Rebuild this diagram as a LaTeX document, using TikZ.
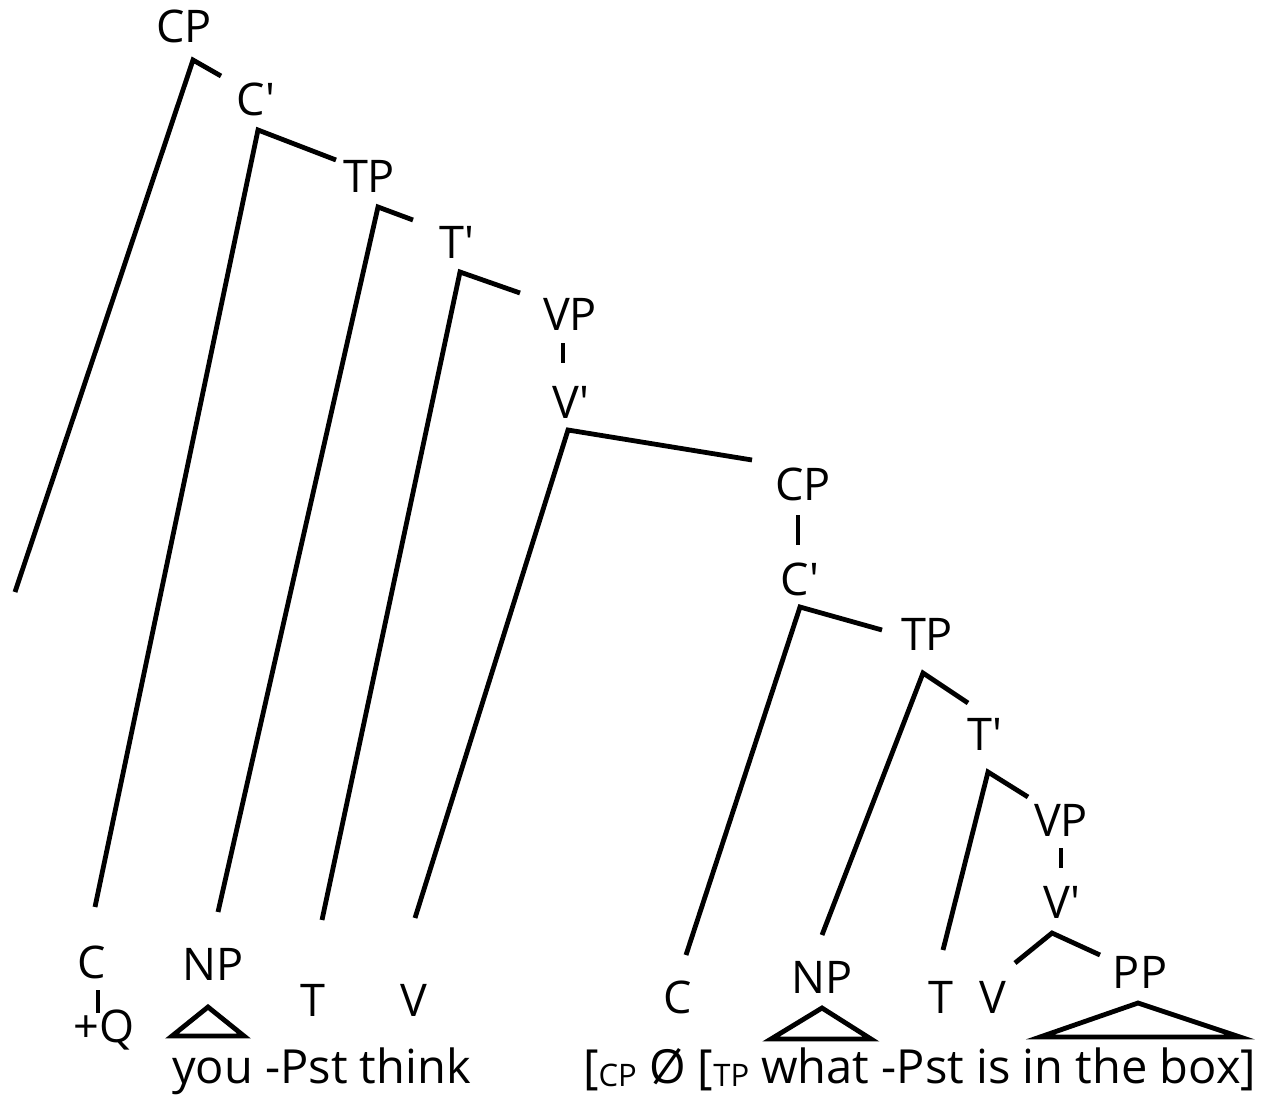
\documentclass[tikz,border=0pt]{standalone}
\usepackage{fontspec}
\setmainfont{Open Sans}[Ligatures=TeXOff]
\newcommand{\smallcat}[1]{\raisebox{-3pt}{\fontsize{31}{34}\selectfont #1}}
\begin{document}
\begin{tikzpicture}[x=1pt,y=-1pt,
  lab/.style={font=\fontsize{45}{50}\selectfont, inner sep=0pt, anchor=base},
  words/.style={font=\fontsize{47}{52}\selectfont, inner sep=0pt, anchor=base west},
  br/.style={line width=4.8pt, line cap=butt, line join=miter},
  tri/.style={line width=4.8pt, line join=miter}]
\useasboundingbox (0,0) rectangle (1280,1095);

% ---- category labels ----
\node[lab] (cpA)  at (184,42)   {CP};
\node[lab] (cbA)  at (256,115)  {C'};
\node[lab] (tpA)  at (369,192)  {TP};
\node[lab] (tbA)  at (457,258)  {T'};
\node[lab] (vpA)  at (570,330)  {VP};
\node[lab] (vbA)  at (571,418)  {V'};
\node[lab] (cA)   at (92,978)   {C};
\node[lab] (qA)   at (104,1042) {+Q};
\node[lab] (npA)  at (213,980)  {NP};
\node[lab] (tA)   at (313,1016) {T};
\node[lab] (vA)   at (414,1016) {V};

\node[lab] (cpB)  at (803,500)  {CP};
\node[lab] (cbB)  at (800,595)  {C'};
\node[lab] (tpB)  at (927,650)  {TP};
\node[lab] (tbB)  at (985,750)  {T'};
\node[lab] (vpB)  at (1061,836) {VP};
\node[lab] (vbB)  at (1062,918) {V'};
\node[lab] (cB)   at (678,1013) {C};
\node[lab] (npB)  at (822,993)  {NP};
\node[lab] (tB)   at (941,1013) {T};
\node[lab] (vB)   at (993,1013) {V};
\node[lab] (ppB)  at (1140,988) {PP};

% ---- terminal strings ----
\node[words] (strA) at (172,1083) {you -Pst think};
\node[words] (strB) at (583,1083)
  {[\smallcat{CP} Ø [\smallcat{TP} what -Pst is in the box]};

% ---- branch points and branch ends ----
\coordinate (cpA-x) at (193,60);   \coordinate (cpA-l) at (15,592);   \coordinate (cpA-r) at (221,76);
\coordinate (cbA-x) at (258,130);  \coordinate (cbA-l) at (95,907);   \coordinate (cbA-r) at (336,160);
\coordinate (tpA-x) at (378,207);  \coordinate (tpA-l) at (218,912);  \coordinate (tpA-r) at (413,220);
\coordinate (tbA-x) at (460,272);  \coordinate (tbA-l) at (322,920);  \coordinate (tbA-r) at (520,293);
\coordinate (vpA-t) at (563,343);  \coordinate (vpA-b) at (563,363);
\coordinate (vbA-x) at (568,430);  \coordinate (vbA-l) at (415,918);  \coordinate (vbA-r) at (752,460);
\coordinate (cA-t)  at (98,990);   \coordinate (cA-b)  at (98,1013);

\coordinate (cpB-t) at (798,515);  \coordinate (cpB-b) at (798,545);
\coordinate (cbB-x) at (800,607);  \coordinate (cbB-l) at (686,955);  \coordinate (cbB-r) at (882,630);
\coordinate (tpB-x) at (923,673);  \coordinate (tpB-l) at (822,935);  \coordinate (tpB-r) at (968,703);
\coordinate (tbB-x) at (988,772);  \coordinate (tbB-l) at (943,950);  \coordinate (tbB-r) at (1028,797);
\coordinate (vpB-t) at (1061,848); \coordinate (vpB-b) at (1061,868);
\coordinate (vbB-x) at (1052,933); \coordinate (vbB-l) at (1015,963); \coordinate (vbB-r) at (1100,955);

% ---- branches ----
\draw[br] (cpA-l) -- (cpA-x) -- (cpA-r);
\draw[br] (cbA-l) -- (cbA-x) -- (cbA-r);
\draw[br] (tpA-l) -- (tpA-x) -- (tpA-r);
\draw[br] (tbA-l) -- (tbA-x) -- (tbA-r);
\draw[br] (vpA-t) -- (vpA-b);
\draw[br] (vbA-l) -- (vbA-x) -- (vbA-r);
\draw[br] (cA-t) -- (cA-b);

\draw[br] (cpB-t) -- (cpB-b);
\draw[br] (cbB-l) -- (cbB-x) -- (cbB-r);
\draw[br] (tpB-l) -- (tpB-x) -- (tpB-r);
\draw[br] (tbB-l) -- (tbB-x) -- (tbB-r);
\draw[br] (vpB-t) -- (vpB-b);
\draw[br] (vbB-l) -- (vbB-x) -- (vbB-r);

% ---- triangles over unanalysed phrases ----
\draw[tri] (208,1007) -- (244,1036) -- (172,1036) -- cycle;
\draw[tri] (822,1008) -- (871,1039) -- (771,1039) -- cycle;
\draw[tri] (1138,1003) -- (1240,1037) -- (1040,1037) -- cycle;
\end{tikzpicture}
\end{document}
